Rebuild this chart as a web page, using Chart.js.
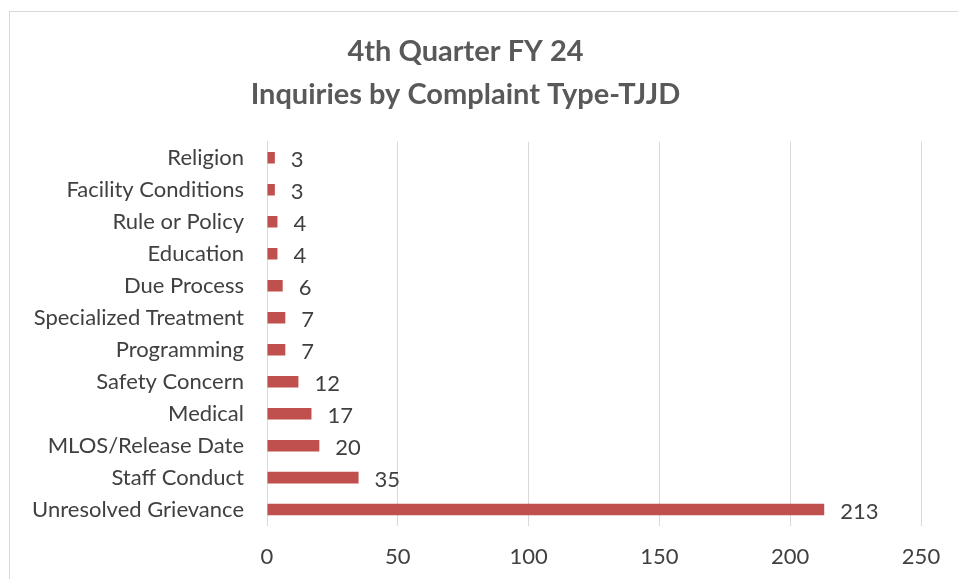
<!DOCTYPE html>
<html>
<head>
<meta charset="utf-8">
<script src="https://cdn.jsdelivr.net/npm/chart.js@4"></script>
<style>
  html, body { margin: 0; padding: 0; background: #fff; overflow: hidden; }
  #wrap { position: absolute; left: 9px; top: 11px; width: 962px; height: 580px; border: 1px solid #d9d9d9; box-sizing: border-box; overflow: hidden; }
  canvas { position: absolute; left: 0; top: 0; }
</style>
</head>
<body>
<div id="wrap"><canvas id="chart" width="960" height="576"></canvas></div>
<script>
const categories = ["Religion", "Facility Conditions", "Rule or Policy", "Education", "Due Process", "Specialized Treatment", "Programming", "Safety Concern", "Medical", "MLOS/Release Date", "Staff Conduct", "Unresolved Grievance"]
const inquiries = [3, 3, 4, 4, 6, 7, 7, 12, 17, 20, 35, 213]
const title_lines = ["4th Quarter FY 24", "Inquiries by Complaint Type-TJJD"]

const font_family = "Lato, 'Open Sans', sans-serif"
const text_color = "#404040"

// draws the value next to each bar end
const value_labels =
{
  id: "value_labels",
  afterDatasetsDraw(chart)
  {
    const ctx = chart.ctx
    const meta = chart.getDatasetMeta(0)
    ctx.save()
    ctx.font = "22px " + font_family
    ctx.fillStyle = text_color
    ctx.textAlign = "left"
    ctx.textBaseline = "middle"
    meta.data.forEach((bar, i) =>
    {
      ctx.fillText(String(inquiries[i]), bar.x + 16, bar.y + 2)
    })
    ctx.restore()
  }
}

new Chart(document.getElementById("chart").getContext("2d"),
{
  type: "bar",
  data:
  {
    labels: categories,
    datasets:
    [
      {
        data: inquiries,
        backgroundColor: "#c0504d",
        barPercentage: 0.36,
        categoryPercentage: 1
      }
    ]
  },
  options:
  {
    indexAxis: "y",
    responsive: false,
    animation: false,
    layout: { padding: { left: 0, right: 49, top: 0, bottom: 0 } },
    plugins:
    {
      legend: { display: false },
      tooltip: { enabled: false },
      title:
      {
        display: true,
        text: title_lines,
        color: "#595959",
        font: { family: font_family, size: 29, weight: "bold", lineHeight: 1.48 },
        padding: { top: 18, bottom: 26 }
      }
    },
    scales:
    {
      x:
      {
        min: 0,
        max: 250,
        ticks: { stepSize: 50, color: text_color, padding: 18, font: { family: font_family, size: 22 } },
        grid: { color: "#d9d9d9", drawTicks: false },
        border: { display: false }
      },
      y:
      {
        afterFit(scale) { scale.width = 257 },
        ticks: { color: text_color, padding: 23, font: { family: font_family, size: 22 } },
        grid: { display: false, drawTicks: false },
        border: { color: "#d9d9d9" }
      }
    }
  },
  plugins: [value_labels]
})
</script>
</body>
</html>
